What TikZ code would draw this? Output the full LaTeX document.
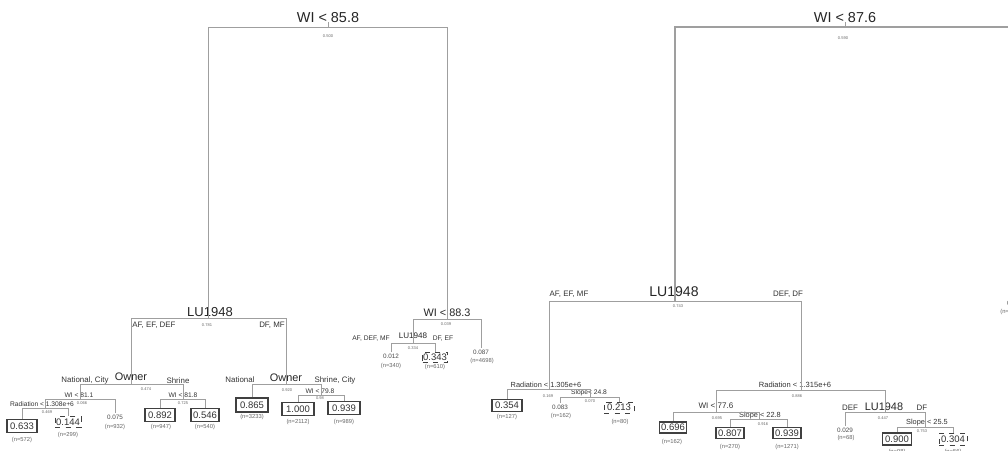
\documentclass[tikz,border=0pt]{standalone}
\usepackage{fontspec}
\setmainfont{Liberation Sans}
\usetikzlibrary{positioning}

\tikzset{
  edge/.style={draw=gray!75, line width=0.5pt},
  bigsplit/.style={font=\fontsize{8.2}{9}\selectfont, text=black!85, inner sep=0pt},
  midsplit/.style={font=\fontsize{7.4}{8}\selectfont, text=black!85, inner sep=0pt},
  ownsplit/.style={font=\fontsize{6.2}{7}\selectfont, text=black!85, inner sep=0pt},
  subsplit/.style={font=\fontsize{3.8}{4.5}\selectfont, text=black!80, inner sep=0pt},
  branchlab/.style={font=\fontsize{4.5}{5}\selectfont, text=black!80, inner sep=0pt},
  devlab/.style={font=\fontsize{2.3}{3}\selectfont, text=black!60, inner sep=0pt},
  nlab/.style={font=\fontsize{3.3}{4}\selectfont, text=black!60, inner sep=0pt},
  leafval/.style={font=\fontsize{3.6}{4}\selectfont, text=black!70, inner sep=1pt},
  leafbox/.style={draw=black!75, line width=0.7pt, font=\fontsize{5.4}{6}\selectfont,
    text=black!80, minimum width=0.6cm, minimum height=0.25cm, inner sep=0pt},
  leafdash/.style={leafbox, dashed, line width=0.5pt, minimum width=0.52cm, minimum height=0.21cm}
}

\begin{document}
\begin{tikzpicture}[x=0.02cm, y=-0.02cm]
  \useasboundingbox (0,0) rectangle (1008,450);
  \clip (0,0) rectangle (1008,450);
  \fill[white] (0,0) rectangle (1008,450);

  % Árvore esquerda: pontos de divisão
  \coordinate (r1) at (328,27);
  \coordinate (lu1) at (208,318);
  \coordinate (ow1) at (131,384);
  \coordinate (wi1) at (80,399);
  \coordinate (ra1) at (45,408);
  \coordinate (wi2) at (183,399);
  \coordinate (ow2) at (286,384);
  \coordinate (wi3) at (321,395);
  \coordinate (wi4) at (447,319);
  \coordinate (lu2) at (413,343);

  % Árvore esquerda: rótulos das divisões
  \node[bigsplit] (tr1) at (328,18) {WI < 85.8};
  \node[devlab] (dr1) at (328,36) {0.500};
  \node[midsplit] (tlu1) at (210,312) {LU1948};
  \node[devlab] (dlu1) at (207,325) {0.781};
  \node[branchlab] (blu1a) at (154,325) {AF, EF, DEF};
  \node[branchlab] (blu1b) at (272,325) {DF, MF};
  \node[ownsplit] (tow1) at (131,377) {Owner};
  \node[branchlab] (bow1a) at (85,380) {National, City};
  \node[branchlab] (bow1b) at (178,381) {Shrine};
  \node[devlab] (dow1) at (146,389) {0.474};
  \node[subsplit] (twi1) at (79,395) {WI < 81.1};
  \node[devlab] (dwi1) at (82,403) {0.066};
  \node[subsplit] (tra1) at (42,404.5) {Radiation < 1.308e+6};
  \node[devlab] (dra1) at (47,412) {0.469};
  \node[subsplit] (twi2) at (183,395) {WI < 81.8};
  \node[devlab] (dwi2) at (183,403) {0.725};
  \node[ownsplit] (tow2) at (286,378) {Owner};
  \node[branchlab] (bow2a) at (240,380) {National};
  \node[branchlab] (bow2b) at (335,380) {Shrine, City};
  \node[devlab] (dow2) at (287,390) {0.920};
  \node[subsplit] (twi3) at (320,391.5) {WI < 79.8};
  \node[devlab] (dwi3) at (320,398.5) {0.98};
  \node[ownsplit] (twi4) at (447,313) {WI < 88.3};
  \node[devlab] (dwi4) at (446,324) {0.039};
  \node[font=\fontsize{4.6}{5}\selectfont, text=black!85, inner sep=0pt] (tlu2) at (413,336) {LU1948};
  \node[branchlab, font=\fontsize{3.8}{4.5}\selectfont] (blu2a) at (371,339) {AF, DEF, MF};
  \node[branchlab, font=\fontsize{3.8}{4.5}\selectfont] (blu2b) at (443,339) {DF, EF};
  \node[devlab] (dlu2) at (413,348) {0.334};

  % Árvore esquerda: folhas
  \node[leafbox] (v633) at (22,426) {0.633};
  \node[nlab] (n633) at (22,440) {(n=572)};
  \node[leafdash] (v144) at (68,422) {0.144};
  \node[nlab] (n144) at (68,435) {(n=299)};
  \node[leafval] (v075) at (115,417) {0.075};
  \node[nlab] (n075) at (115,427) {(n=932)};
  \node[leafbox] (v892) at (160,415) {0.892};
  \node[nlab] (n892) at (161,427) {(n=947)};
  \node[leafbox, minimum width=0.56cm] (v546) at (205,415) {0.546};
  \node[nlab] (n546) at (205,427) {(n=540)};
  \node[leafbox, minimum width=0.64cm, minimum height=0.28cm] (v865) at (252,405) {0.865};
  \node[nlab] (n865) at (252,417) {(n=3233)};
  \node[leafbox, minimum width=0.64cm] (v100) at (298,409) {1.000};
  \node[nlab] (n100) at (298,422) {(n=2112)};
  \node[leafbox, minimum width=0.64cm] (v939) at (344,408) {0.939};
  \node[nlab] (n939) at (344,422) {(n=989)};
  \node[leafval] (v012) at (391,356) {0.012};
  \node[nlab] (n012) at (391,366) {(n=340)};
  \node[leafdash, minimum width=0.5cm, minimum height=0.2cm] (v343) at (435,357) {0.343};
  \node[nlab] (n343) at (435,367) {(n=610)};
  \node[leafval] (v087) at (481,352) {0.087};
  \node[nlab] (n087) at (482,361) {(n=4698)};

  % Árvore esquerda: ramos
  \draw[edge] (r1) -- ++(0,-5);
  \draw[edge] (r1) -| (lu1);
  \draw[edge] (r1) -| (wi4);
  \draw[edge] (lu1) -| (ow1);
  \draw[edge] (lu1) -| (ow2);
  \draw[edge] (ow1) -| (wi1);
  \draw[edge] (ow1) -| (wi2);
  \draw[edge] (wi1) -| (ra1);
  \draw[edge] (wi1) -| (v075.north);
  \draw[edge] (ra1) -| (v633.north);
  \draw[edge] (ra1) -| (v144.north);
  \draw[edge] (wi2) -| (v892.north);
  \draw[edge] (wi2) -| (v546.north);
  \draw[edge] (ow2) -| (v865.north);
  \draw[edge] (ow2) -| (wi3);
  \draw[edge] (wi3) -| (v100.north);
  \draw[edge] (wi3) -| (v939.north);
  \draw[edge] (wi4) -| (lu2);
  \draw[edge] (wi4) -| (v087.north);
  \draw[edge] (lu2) -| (v012.north);
  \draw[edge] (lu2) -| (v343.north);

  % Árvore direita: pontos de divisão
  \coordinate (r2) at (845,27);
  \coordinate (lu3) at (675,301);
  \coordinate (ra2) at (549,389);
  \coordinate (sl1) at (590,397);
  \coordinate (ra3) at (801,390);
  \coordinate (wi5) at (716,412);
  \coordinate (sl2) at (759,419);
  \coordinate (lu4) at (885,412);
  \coordinate (sl3) at (925,427);

  % Árvore direita: rótulos das divisões
  \node[bigsplit] (tr2) at (845,18) {WI < 87.6};
  \node[devlab] (dr2) at (843,38) {0.590};
  \node[midsplit, font=\fontsize{8}{9}\selectfont] (tlu3) at (674,292) {LU1948};
  \node[devlab] (dlu3) at (678,306) {0.743};
  \node[branchlab] (blu3a) at (569,294) {AF, EF, MF};
  \node[branchlab] (blu3b) at (788,294) {DEF, DF};
  \node[subsplit, font=\fontsize{4.2}{5}\selectfont] (tra2) at (546,385) {Radiation < 1.305e+6};
  \node[devlab] (dra2) at (548,396) {0.169};
  \node[subsplit] (tsl1) at (589,393) {Slope< 24.8};
  \node[devlab] (dsl1) at (590,401.5) {0.070};
  \node[subsplit, font=\fontsize{4.3}{5}\selectfont] (tra3) at (795,385) {Radiation < 1.315e+6};
  \node[devlab] (dra3) at (797,396) {0.886};
  \node[subsplit, font=\fontsize{4.6}{5}\selectfont] (twi5) at (716,406) {WI < 77.6};
  \node[devlab] (dwi5) at (717,418) {0.695};
  \node[subsplit, font=\fontsize{4.2}{5}\selectfont] (tsl2) at (760,415.5) {Slope < 22.8};
  \node[devlab] (dsl2) at (763,424) {0.916};
  \node[midsplit, font=\fontsize{6.2}{7}\selectfont] (tlu4) at (884,406.5) {LU1948};
  \node[branchlab] (blu4a) at (850,408) {DEF};
  \node[branchlab] (blu4b) at (922,408) {DF};
  \node[devlab] (dlu4) at (883,418) {0.447};
  \node[subsplit, font=\fontsize{4.2}{5}\selectfont] (tsl3) at (927,422.5) {Slope < 25.5};
  \node[devlab] (dsl3) at (922,431) {0.753};

  % Árvore direita: folhas
  \node[leafval] (v042) at (1015,303) {0.042};
  \node[nlab] (n042) at (1012,312) {(n=1046)};
  \node[leafbox] (v354) at (507,405.5) {0.354};
  \node[nlab] (n354) at (507,417) {(n=127)};
  \node[leafval] (v083) at (560,407) {0.083};
  \node[nlab] (n083) at (561,416) {(n=162)};
  \node[leafdash, minimum width=0.6cm, minimum height=0.22cm] (v213) at (619,407.5) {0.213};
  \node[nlab] (n213) at (620,422) {(n=80)};
  \node[leafbox, minimum width=0.55cm, minimum height=0.22cm] (v696) at (673,427.5) {0.696};
  \node[nlab] (n696) at (672,442) {(n=162)};
  \node[leafbox, minimum width=0.56cm, minimum height=0.21cm] (v807) at (730,433) {0.807};
  \node[nlab] (n807) at (730,447) {(n=270)};
  \node[leafbox, minimum width=0.56cm, minimum height=0.21cm] (v939b) at (787,433) {0.939};
  \node[nlab] (n939b) at (787,447) {(n=1271)};
  \node[leafval] (v029) at (845,430) {0.029};
  \node[nlab] (n029) at (846,438) {(n=68)};
  \node[leafbox, minimum width=0.58cm, minimum height=0.24cm] (v900) at (897,439) {0.900};
  \node[nlab] (n900) at (897,452) {(n=98)};
  \node[leafdash, minimum width=0.56cm, minimum height=0.24cm] (v304) at (953,439) {0.304};
  \node[nlab] (n304) at (953,452) {(n=56)};

  % Árvore direita: ramos
  \draw[edge] (r2) -- ++(0,-5);
  \draw[edge, line width=0.9pt] (r2) -| (lu3);
  \draw[edge, line width=0.9pt] (r2) -| (v042.north);
  \draw[edge] (lu3) -| (ra2);
  \draw[edge] (lu3) -| (ra3);
  \draw[edge] (ra2) -| (v354.north);
  \draw[edge] (ra2) -| (sl1);
  \draw[edge] (sl1) -| (v083.north);
  \draw[edge] (sl1) -| (v213.north);
  \draw[edge] (ra3) -| (wi5);
  \draw[edge] (ra3) -| (lu4);
  \draw[edge] (wi5) -| (v696.north);
  \draw[edge] (wi5) -| (sl2);
  \draw[edge] (sl2) -| (v807.north);
  \draw[edge] (sl2) -| (v939b.north);
  \draw[edge] (lu4) -| (v029.north);
  \draw[edge] (lu4) -| (sl3);
  \draw[edge] (sl3) -| (v900.north);
  \draw[edge] (sl3) -| (v304.north);
\end{tikzpicture}
\end{document}
